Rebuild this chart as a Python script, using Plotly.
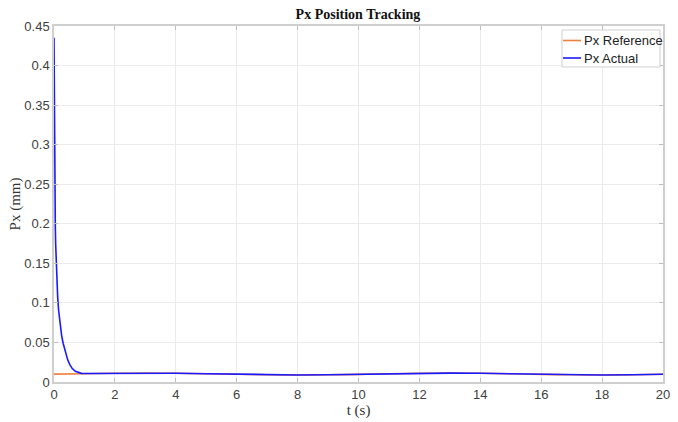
import plotly.graph_objects as go

# Reference trajectory (slow oscillation around 0.01 mm)
t_ref = [0, 1, 2, 3, 4, 5, 6, 7, 8, 9, 10, 11, 12, 13, 14, 15, 16, 17, 18, 19, 20]
px_ref = [0.0100, 0.0105, 0.0110, 0.0112, 0.0110, 0.0105, 0.0098, 0.0092, 0.0089,
          0.0091, 0.0097, 0.0104, 0.0110, 0.0112, 0.0110, 0.0104, 0.0097, 0.0091,
          0.0089, 0.0092, 0.0098]

# Measured trajectory: fast initial transient, then tracking the reference
t_act = [0, 0.004, 0.008, 0.012, 0.018, 0.025, 0.034, 0.043, 0.055, 0.067, 0.08, 0.1,
         0.12, 0.15, 0.2, 0.25, 0.3, 0.35, 0.4, 0.45, 0.52, 0.6, 0.7, 0.8, 0.9, 1.0,
         1.5, 2, 2.5, 3, 3.5, 4, 5, 6, 7, 8, 9, 10, 11, 12, 13, 14, 15, 16, 17, 18,
         19, 20]
px_act = [0.435, 0.385, 0.345, 0.312, 0.275, 0.245, 0.218, 0.196, 0.174, 0.157, 0.142,
          0.123, 0.108, 0.091, 0.071, 0.059, 0.049, 0.041, 0.034, 0.028, 0.022, 0.017,
          0.0135, 0.0117, 0.0109, 0.0107, 0.0108, 0.0110, 0.0112, 0.0112, 0.0111,
          0.0110, 0.0105, 0.0098, 0.0092, 0.0089, 0.0091, 0.0097, 0.0104, 0.0110,
          0.0112, 0.0110, 0.0104, 0.0097, 0.0091, 0.0089, 0.0092, 0.0098]

series_names = ["Px Reference", "Px Actual"]
series_colors = ["#F08040", "#1A1AFF"]

W, H = 678, 422
ML, MR, MT, MB = 54, 15, 26, 40

fig = go.Figure()
fig.add_trace(go.Scatter(x=t_ref, y=px_ref, mode="lines", name=series_names[0],
                         line=dict(color=series_colors[0], width=1.6, shape="spline",
                                   smoothing=0.8), showlegend=False))
fig.add_trace(go.Scatter(x=t_act, y=px_act, mode="lines", name=series_names[1],
                         line=dict(color=series_colors[1], width=1.6), showlegend=False))

tick_font = dict(family="Liberation Sans, Arial", size=13, color="#404040")
axis_common = dict(
    showgrid=True, gridcolor="#EBEBEB", gridwidth=1,
    showline=True, linecolor="#CFCFCF", linewidth=1.5, mirror="allticks",
    ticks="inside", ticklen=4, tickcolor="#BDBDBD",
    zeroline=False, tickfont=tick_font, automargin=False,
)


def px_to_paper(px, py):
    """Convert a pixel position on the page to paper coordinates."""
    return (px - ML) / (W - ML - MR), (H - MB - py) / (H - MT - MB)


# Compact MATLAB-style legend box in the upper-right corner
x0, y0 = px_to_paper(562, 30)
x1, y1 = px_to_paper(660, 67)
shapes = [dict(type="rect", xref="paper", yref="paper", x0=x0, y0=y1, x1=x1, y1=y0,
               fillcolor="white", line=dict(color="#CFCFCF", width=1), layer="above")]
annotations = []
for i, (name, color) in enumerate(zip(series_names, series_colors)):
    row_y = 40.5 + i * 17.5
    lx0, ly = px_to_paper(563, row_y)
    lx1, _ = px_to_paper(581, row_y)
    shapes.append(dict(type="line", xref="paper", yref="paper", x0=lx0, x1=lx1,
                       y0=ly, y1=ly, line=dict(color=color, width=1.6), layer="above"))
    tx, _ = px_to_paper(582, row_y)
    annotations.append(dict(text=name, xref="paper", yref="paper", x=tx, y=ly,
                            xanchor="left", yanchor="middle", showarrow=False,
                            font=dict(family="Liberation Sans, Arial", size=13,
                                      color="#222222")))

fig.update_layout(
    width=W, height=H,
    margin=dict(l=ML, r=MR, t=MT, b=MB),
    paper_bgcolor="white", plot_bgcolor="white",
    title=dict(text="<b>Px Position Tracking</b>", x=0.528, xanchor="center",
               y=0.967, yanchor="middle",
               font=dict(family="Liberation Serif, Times New Roman", size=14, color="#111111")),
    xaxis=dict(range=[0, 20], dtick=2, tickmode="linear", tick0=0,
               title=dict(text="t (s)", standoff=3,
                          font=dict(family="Liberation Serif, Times New Roman", size=15, color="#333333")),
               **axis_common),
    yaxis=dict(range=[0, 0.45], dtick=0.05, tickmode="linear", tick0=0,
               title=dict(text="Px (mm)", standoff=0,
                          font=dict(family="Liberation Serif, Times New Roman", size=15, color="#333333")),
               **axis_common),
    shapes=shapes,
    annotations=annotations,
    showlegend=False,
)

fig.write_html("out.html")
